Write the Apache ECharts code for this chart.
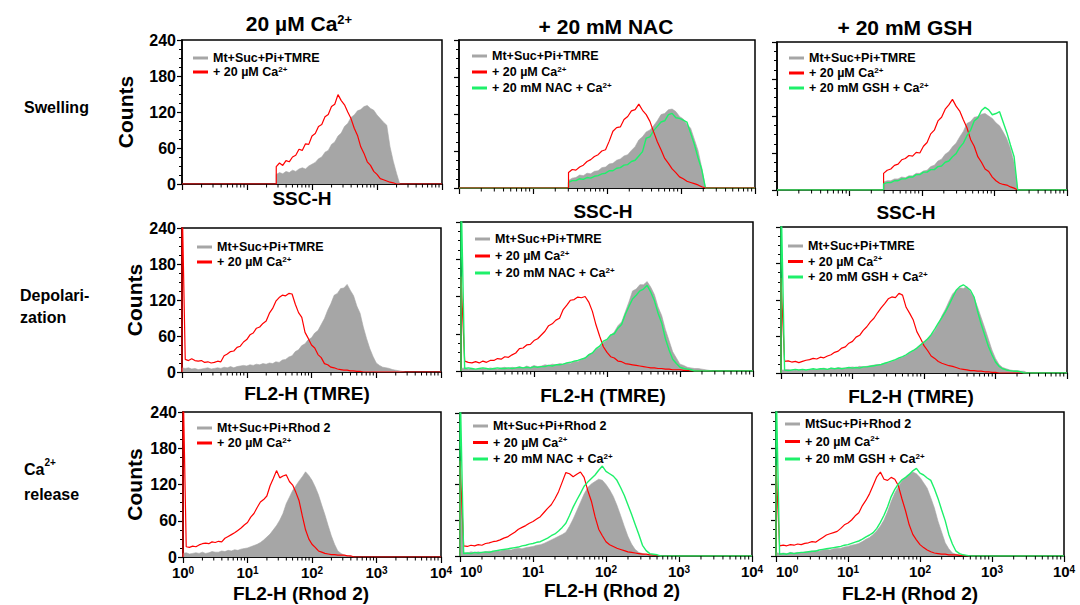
<!DOCTYPE html>
<html>
<head>
<meta charset="utf-8">
<script src="https://cdn.jsdelivr.net/npm/echarts@6/dist/echarts.min.js"></script>
<style>html,body{margin:0;padding:0;background:#fff}#c{width:1080px;height:605px}</style>
</head>
<body>
<div id="c"></div>
<script>
// ---------- data: histogram counts, one value per log10-channel bin ----------
const BIN = 0.05;                 // bin width in decades
const decades = [0, 1, 2, 3, 4];  // x tick exponents (10^0 ... 10^4)
const countTicks = [0, 60, 120, 180, 240];

const rowNames = ['Swelling', 'Depolari-\nzation', 'Ca{s|2+}\nrelease'];
const colNames = ['20 µM Ca{s|2+}', '+ 20 mM NAC', '+ 20 mM GSH'];
const xNames = ['SSC-H', 'FL2-H (TMRE)', 'FL2-H (Rhod 2)'];
const redName = '+ 20 µM Ca2+';
const grayNames = ['Mt+Suc+Pi+TMRE', 'Mt+Suc+Pi+TMRE', 'Mt+Suc+Pi+TMRE',
                   'Mt+Suc+Pi+TMRE', 'Mt+Suc+Pi+TMRE', 'Mt+Suc+Pi+TMRE',
                   'Mt+Suc+Pi+Rhod 2', 'Mt+Suc+Pi+Rhod 2', 'MtSuc+Pi+Rhod 2'];
const greenNames = [null, '+ 20 mM NAC + Ca2+', '+ 20 mM GSH + Ca2+'];

// first bin exponent of each histogram
const swellStart = [1.45, 1.48, 1.47];
const fl2Start = 0;

// Swelling (SSC-H)
const sw1Gray = [16,19,17,21,19,23,21,25,27,25,30,33,36,42,45,53,56,66,70,80,85,96,101,111,115,122,124,129,131,126,123,115,109,103,98,62,38,18];
const sw1Red = [29,35,31,39,37,45,48,58,56,67,66,80,84,96,99,112,116,129,133,149,139,132,120,109,93,81,62,51,37,31,21,16,9,7,5,3,2];
const sw2Gray = [12,16,17,21,20,24,23,27,28,33,34,39,40,45,47,52,54,61,67,78,83,91,94,101,109,119,121,127,128,124,116,112,103,97,79,61,33];
const sw2Red = [25,30,29,34,37,43,46,51,54,60,62,76,92,98,99,111,116,125,127,136,126,119,108,91,75,62,48,40,31,25,18,15,11,9,7,5,2];
const sw2Green = [9,12,12,15,14,17,16,19,20,23,24,28,28,32,33,37,38,43,45,52,59,81,83,93,100,107,109,119,121,114,113,110,107,89,71,49,30];
const sw3Gray = [13,15,15,18,18,21,20,23,23,27,27,31,32,38,40,47,50,58,62,70,76,86,95,108,111,118,119,123,124,120,116,109,104,94,83,67,44];
const sw3Red = [27,32,34,40,42,49,51,56,55,61,60,71,77,91,97,112,118,131,138,147,136,128,114,101,82,71,54,45,34,30,21,15,11,9,8,5,3];
const sw3Green = [10,12,12,15,15,18,18,21,21,25,25,29,29,33,33,38,39,45,47,54,59,69,76,88,97,112,117,129,134,130,122,124,127,110,93,73,54];

// Depolarization (FL2-H TMRE)
const dp1Gray = [7,6,7,5,6,4,5,6,7,5,6,7,6,8,7,9,7,9,10,11,10,12,11,13,12,14,13,15,14,17,16,20,21,25,27,34,37,44,47,54,57,65,69,79,89,103,114,128,131,139,140,146,136,127,110,98,75,56,39,26,15,11,8,7,6,4,3,2,1];
const dp1Red = [300,21,19,22,19,18,19,16,17,15,16,18,17,27,30,34,35,41,43,50,54,62,65,73,75,81,85,98,106,118,124,128,127,131,130,113,99,91,66,56,45,40,29,24,14,12,8,7,5,4,3,3,2,2,1,1];
const dp2Gray = [4,5,3,4,2,3,4,3,5,4,3,5,6,4,6,5,7,5,8,6,9,7,8,10,9,11,10,12,11,13,12,16,15,19,21,27,29,35,38,46,50,57,63,73,79,95,111,129,132,139,139,144,135,123,103,89,67,49,31,21,11,9,6,5,4,4,3,2,1];
const dp2Red = [152,16,14,13,15,13,16,14,17,17,20,19,23,22,26,29,36,37,42,43,49,52,58,64,73,76,82,85,99,106,114,115,119,118,120,111,96,74,56,39,30,23,21,16,15,12,11,10,9,8,7,6,5,5,4,4,3,3,2,2,2,1,1];
const dp2Green = [300,4,5,4,3,4,5,4,3,4,5,4,4,5,4,5,6,5,6,5,7,6,7,7,9,8,10,10,11,13,14,16,17,19,21,26,29,36,40,48,51,58,60,69,75,91,104,116,122,129,132,138,127,113,93,77,52,34,19,12,6,4,3,2];
const dp3Gray = [5,5,6,4,5,4,5,4,5,6,5,7,8,6,8,7,9,8,8,9,10,9,11,10,11,12,13,14,14,16,17,19,21,24,26,29,33,36,41,47,51,57,62,69,80,94,105,118,130,136,140,139,142,133,124,108,91,74,56,38,24,14,9,7,5,4,4,3,3];
const dp3Red = [156,19,20,18,19,17,19,21,22,24,23,26,25,28,30,34,36,41,43,49,52,59,62,70,76,84,90,99,107,114,122,125,124,131,128,108,98,87,68,57,45,37,28,24,19,16,14,12,11,9,7,6,5,4,4,3,3,2,2,1,1];
const dp3Green = [300,5,4,5,6,5,6,5,6,7,6,7,7,6,8,7,8,7,8,9,8,9,8,10,10,11,12,13,14,16,18,20,22,25,27,30,34,37,41,46,51,56,63,72,82,91,101,112,124,136,142,145,141,136,125,101,80,62,44,30,18,11,7,5,4,3,3,2];

// Ca2+ release (FL2-H Rhod 2)
const ca1Gray = [6,7,5,6,7,6,8,6,7,9,8,8,10,9,11,10,12,11,13,14,15,17,19,21,24,28,33,38,45,52,61,72,88,99,110,118,126,133,141,135,127,116,103,86,70,52,35,21,10,6,3,2,1];
const ca1Red = [300,17,16,18,17,20,22,23,22,25,24,26,25,31,34,37,40,44,48,53,57,66,72,82,91,95,101,118,130,143,131,134,136,125,119,107,93,68,45,30,21,16,10,8,6,5,4,4,3,3,3,2,2];
const ca2Gray = [150,6,5,7,6,7,6,7,8,7,9,8,10,11,10,12,13,12,14,15,16,18,19,21,24,27,30,33,36,40,50,62,76,90,104,115,121,125,129,127,120,111,100,85,68,50,33,20,11,6,4,2,2,1];
const ca2Red = [160,17,16,18,17,19,18,21,22,24,25,27,30,32,36,40,45,48,51,55,58,62,66,73,80,86,96,108,124,140,138,133,137,141,132,110,92,66,45,34,24,19,16,13,11,9,7,6,5,4,3,3,2,2,1];
const ca2Green = [300,4,5,4,6,5,6,7,6,8,9,10,11,12,13,14,15,17,18,20,21,23,24,27,30,34,37,42,48,55,68,82,94,105,117,124,130,136,144,151,142,138,134,127,115,102,86,70,53,36,18,9,4,3,2];
const ca3Gray = [6,4,5,4,6,5,6,5,7,7,8,9,8,10,11,10,12,13,13,15,16,18,19,21,24,28,31,36,42,50,60,74,91,105,116,125,131,136,140,137,131,122,113,97,80,58,40,22,12,5,3,2,1];
const ca3Red = [151,17,18,17,19,18,20,19,21,22,24,23,27,31,35,37,39,41,46,52,55,60,67,72,84,93,104,118,132,140,128,126,131,128,117,95,75,52,36,27,19,14,10,7,5,4,3,3,2,2,2,1,1];
const ca3Green = [300,3,4,3,5,4,5,6,6,7,8,8,10,11,12,13,14,15,16,18,19,21,23,25,28,32,35,39,46,56,68,82,99,111,120,127,131,136,142,146,138,135,130,126,112,96,77,59,36,20,8,4,2,1];

const grayData  = [sw1Gray, sw2Gray, sw3Gray, dp1Gray, dp2Gray, dp3Gray, ca1Gray, ca2Gray, ca3Gray];
const redData   = [sw1Red, sw2Red, sw3Red, dp1Red, dp2Red, dp3Red, ca1Red, ca2Red, ca3Red];
const greenData = [null, sw2Green, sw3Green, null, dp2Green, dp3Green, null, ca2Green, ca3Green];
const starts    = [swellStart[0], swellStart[1], swellStart[2], fl2Start, fl2Start, fl2Start, fl2Start, fl2Start, fl2Start];

// ---------- layout (positions / styles) ----------
const FONT = "'Liberation Sans', Arial, Helvetica, sans-serif";
const GRAY = '#a6a6a6', RED = '#ff0000', GREEN = '#1ef06a';

const gridBoxes = [
  [182, 40, 260, 144], [459, 40, 296, 148], [777, 42, 290, 148],
  [182, 228, 259, 144], [461, 222, 292, 149], [781, 227, 286, 146],
  [183, 412, 258, 145], [460, 413, 292, 143], [776, 412, 288, 144]
];
// legend: left, top, itemGap
const legendBoxes = [
  [193, 51, 0], [472, 49, 2], [789, 51, 1],
  [197, 240, 1], [475, 232, 3], [788, 239, 1.5],
  [197, 421, 1], [473, 419, 2.5], [785, 417, 3.5]
];
const countsGap = [46, 36, 38];
const colTitlePos = [[299, 23], [606, 26], [905, 27]];
const rowTitlePos = [[24, 107, 16], [20, 306, 22], [24, 482, 25]];
const xNamePos = [
  [302, 198], [603, 211], [906, 212],
  [307, 393], [603, 395], [911, 396],
  [301, 593], [612, 590], [910, 593]
];

function hist(start, counts) {
  const pts = [[0, 0], [start, 0]];
  counts.forEach((c, i) => pts.push([+(start + i * BIN).toFixed(3), c]));
  pts.push([+(start + counts.length * BIN).toFixed(3), 0]);
  pts.push([decades[decades.length - 1], 0]);
  return pts;
}

const minorTicks = [];
for (let d = 0; d < 4; d++) for (let k = 2; k <= 9; k++) minorTicks.push([Math.log10(k) + d, 0]);

const supStyle = (size) => ({ fontSize: size, fontWeight: 'bold', fontFamily: FONT, color: '#000', verticalAlign: 'top' });
const fmtCa = (s) => s.replace('Ca2+', 'Ca{s|2+}');

const grids = [], xAxes = [], yAxes = [], series = [], legends = [], graphics = [];

gridBoxes.forEach((b, i) => {
  const row = Math.floor(i / 3), col = i % 3;
  grids.push({ left: b[0], top: b[1], width: b[2], height: b[3], show: true,
    borderColor: '#000', borderWidth: 1.5, backgroundColor: 'transparent',
    containLabel: false, outerBoundsMode: 'none' });

  xAxes.push({ type: 'value', gridIndex: i, min: decades[0], max: decades[decades.length - 1], interval: 1,
    axisLine: { show: true, onZero: false, lineStyle: { color: '#000', width: 1.5 } },
    axisTick: { show: true, length: 6, lineStyle: { color: '#000', width: 1.2 } },
    minorTick: { show: false }, splitLine: { show: false },
    axisLabel: { show: row === 2, margin: 8, color: '#000',
      alignMinLabel: col === 0 ? 'center' : 'left',
      formatter: (v) => '{b|10}{s|' + v + '}',
      rich: { b: { fontSize: 15, fontWeight: 'bold', fontFamily: FONT, color: '#000' }, s: supStyle(10) } }
  });

  yAxes.push({ type: 'value', gridIndex: i, min: countTicks[0], max: countTicks[countTicks.length - 1], interval: 60,
    axisLine: { show: true, onZero: false, lineStyle: { color: '#000', width: 1.5 } },
    axisTick: { show: true, length: 5, lineStyle: { color: '#000', width: 1.2 } },
    minorTick: { show: true, splitNumber: 4, length: 3, lineStyle: { color: '#000', width: 1 } },
    splitLine: { show: false }, minorSplitLine: { show: false },
    axisLabel: { show: col === 0, margin: 6, color: '#000', fontSize: 16, fontWeight: 'bold', fontFamily: FONT },
    name: col === 0 ? 'Counts' : '', nameLocation: 'middle', nameGap: countsGap[row], nameRotate: 90,
    nameTextStyle: { fontSize: 21, fontWeight: 'bold', fontFamily: FONT, color: '#000' }
  });

  const gName = grayNames[i];
  series.push({ type: 'line', name: gName, xAxisIndex: i, yAxisIndex: i, data: hist(starts[i], grayData[i]),
    symbol: 'none', silent: true, color: GRAY,
    lineStyle: { color: GRAY, width: 0.6 }, areaStyle: { color: GRAY, opacity: 1 }, z: 2 });
  const redTop = (i === 1);
  series.push({ type: 'line', name: redName, xAxisIndex: i, yAxisIndex: i, data: hist(starts[i], redData[i]),
    symbol: 'none', silent: true, color: RED,
    lineStyle: { color: RED, width: 1.2 }, z: redTop ? 5 : 3 });
  const legendData = [{ name: gName }, { name: redName }];
  if (greenData[i]) {
    const gn = greenNames[col];
    series.push({ type: 'line', name: gn, xAxisIndex: i, yAxisIndex: i, data: hist(starts[i], greenData[i]),
      symbol: 'none', silent: true, color: GREEN,
      lineStyle: { color: GREEN, width: 1.4 }, z: 4 });
    legendData.push({ name: gn });
  }
  series.push({ type: 'custom', xAxisIndex: i, yAxisIndex: i, data: minorTicks, silent: true, clip: false, z: 6,
    renderItem: (params, api) => {
      const p = api.coord([api.value(0), 0]);
      return { type: 'line', shape: { x1: p[0], y1: p[1], x2: p[0], y2: p[1] + 3.5 },
        style: { stroke: '#000', lineWidth: 1 } };
    } });

  const L = legendBoxes[i];
  legends.push({ left: L[0], top: L[1], orient: 'vertical', padding: 0, itemGap: L[2],
    itemWidth: 15, itemHeight: 3, icon: 'rect', selectedMode: false, data: legendData,
    itemStyle: { borderWidth: 0 },
    formatter: fmtCa,
    textStyle: { fontSize: 12.5, fontWeight: 'bold', fontFamily: FONT, color: '#000', lineHeight: 14,
      rich: { s: supStyle(8) } } });

  const xp = xNamePos[i];
  graphics.push({ type: 'text', x: xp[0], y: xp[1], silent: true,
    style: { text: xNames[row], align: 'center', verticalAlign: 'middle', fill: '#000',
      fontSize: 19, fontWeight: 'bold', fontFamily: FONT } });
});

colNames.forEach((t, c) => {
  graphics.push({ type: 'text', x: colTitlePos[c][0], y: colTitlePos[c][1], silent: true,
    style: { text: t, align: 'center', verticalAlign: 'middle', fill: '#000',
      fontSize: 21, fontWeight: 'bold', fontFamily: FONT, rich: { s: supStyle(13) } } });
});
rowNames.forEach((t, r) => {
  const p = rowTitlePos[r];
  graphics.push({ type: 'text', x: p[0], y: p[1], silent: true,
    style: { text: t, align: 'left', verticalAlign: 'middle', fill: '#000', lineHeight: p[2],
      fontSize: 16, fontWeight: 'bold', fontFamily: FONT, rich: { s: supStyle(10) } } });
});

const chart = echarts.init(document.getElementById('c'), null, { renderer: 'svg', width: 1080, height: 605 });
chart.setOption({
  animation: false,
  backgroundColor: '#fff',
  textStyle: { fontFamily: FONT },
  grid: grids, xAxis: xAxes, yAxis: yAxes, legend: legends, series: series, graphic: graphics
});
</script>
</body>
</html>
